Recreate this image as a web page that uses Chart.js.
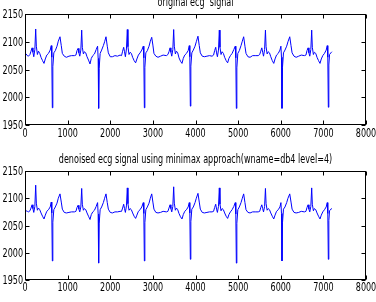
<!DOCTYPE html>
<html>
<head>
<meta charset="utf-8">
<script src="https://cdn.jsdelivr.net/npm/chart.js@4/dist/chart.umd.min.js"></script>
<style>
html,body{margin:0;padding:0;background:#fff;}
#wrap{position:relative;width:376px;height:302px;overflow:hidden;}
canvas{position:absolute;left:0;}
</style>
</head>
<body>
<div id="wrap">
<canvas id="c1" width="376" height="150" style="top:0"></canvas>
<canvas id="c2" width="376" height="152" style="top:150px"></canvas>
</div>
<script>
// ─── DATA ────────────────────────────────────────────────────────────────────
const TITLE_TOP='original ecg  signal';
const TITLE_BOT='denoised ecg signal using minimax approach(wname=db4 level=4)';
const X_TICKS=[0,1000,2000,3000,4000,5000,6000,7000,8000];
const Y_TICKS=[1950,2000,2050,2100,2150];

// sample index (shared by both signals)
const samples=[
  0,25,55,
  81,116,141,166,186,206,231,251,266,291,316,346,376,411,446,476,511,551,591,616,629,641,653,676,711,751,781,821,851,876,921,971,1031,1091,
  1160,1195,1220,1245,1265,1285,1310,1330,1345,1370,1395,1425,1455,1490,1525,1555,1590,1630,1670,1703,1716,1728,1740,1763,1798,1838,1868,1900,1930,1955,2000,2050,2110,2170,
  2230,2265,2290,2315,2335,2355,2380,2400,2415,2440,2465,2495,2525,2560,2595,2625,2660,2700,2740,2775,2788,2800,2812,2835,2870,2910,2940,2973,3000,3025,3070,3120,3180,3240,
  3318,3353,3378,3403,3423,3443,3468,3488,3503,3528,3553,3583,3613,3648,3683,3713,3748,3788,3828,3854,3867,3879,3891,3914,3949,3989,4019,4058,4088,4113,4158,4208,4268,4328,
  4389,4424,4449,4474,4494,4514,4539,4559,4574,4599,4624,4654,4684,4719,4754,4784,4819,4859,4899,4933,4946,4958,4970,4993,5028,5068,5098,5130,5160,5185,5230,5280,5340,5400,
  5471,5506,5531,5556,5576,5596,5621,5641,5656,5681,5706,5736,5766,5801,5836,5866,5901,5941,5981,6004,6017,6029,6041,6064,6099,6139,6169,6211,6241,6266,6311,6361,6421,6481,
  6556,6591,6616,6641,6661,6681,6706,6726,6741,6766,6791,6821,6851,6886,6921,6951,6986,7026,7066,7091,7104,7116,7128,7145,7175,7200
];

const original=[
  2076,2078,2075,
  2074,2077,2083,2089,2081,2073,2086,2123,2092,2077,2083,2079,2072,2066,2061,2069,2076,2079,2085,2093,2072,1981,2055,2080,2084,2092,2101,2109,2093,2079,2074,2072,2074,2075,
  2075,2076,2084,2088,2080,2074,2085,2121,2090,2078,2082,2080,2073,2067,2060,2070,2075,2078,2086,2092,2070,1980,2052,2079,2085,2093,2100,2109,2092,2080,2073,2073,2075,2074,
  2076,2075,2083,2090,2082,2073,2087,2122,2091,2077,2081,2079,2072,2066,2062,2069,2076,2080,2085,2092,2071,1981,2054,2080,2084,2092,2101,2108,2094,2079,2074,2072,2074,2076,
  2075,2077,2082,2089,2081,2074,2086,2122,2092,2078,2083,2080,2071,2065,2061,2070,2076,2079,2084,2093,2073,1984,2056,2080,2085,2092,2100,2110,2093,2080,2074,2073,2074,2075,
  2074,2076,2084,2090,2080,2073,2085,2121,2090,2077,2082,2079,2072,2066,2062,2070,2075,2079,2086,2092,2071,1980,2053,2079,2084,2093,2101,2109,2092,2079,2073,2072,2075,2075,
  2075,2077,2083,2089,2081,2074,2086,2121,2091,2078,2082,2080,2073,2066,2061,2069,2076,2079,2085,2092,2072,1980,2054,2080,2085,2092,2100,2109,2093,2080,2074,2072,2074,2076,
  2075,2076,2084,2089,2080,2074,2086,2121,2090,2077,2081,2079,2072,2066,2061,2069,2075,2079,2085,2093,2072,1982,2058,2077,2080,2082
];

const denoised=[
  2076,2077,2076,
  2075,2077,2082,2088,2081,2074,2085,2124,2091,2078,2082,2079,2073,2067,2062,2069,2076,2079,2084,2093,2073,1985,2056,2079,2084,2091,2100,2108,2093,2080,2074,2073,2074,2075,
  2075,2076,2083,2087,2080,2075,2084,2118,2089,2078,2081,2079,2073,2067,2061,2070,2075,2078,2085,2092,2071,1981,2053,2079,2084,2092,2100,2108,2092,2080,2074,2073,2075,2075,
  2076,2076,2082,2089,2081,2074,2086,2119,2090,2078,2081,2079,2073,2067,2063,2069,2076,2079,2084,2092,2072,1985,2055,2079,2084,2091,2100,2108,2093,2080,2074,2073,2074,2076,
  2075,2076,2082,2088,2081,2075,2085,2121,2091,2078,2082,2079,2072,2066,2062,2070,2076,2079,2084,2092,2073,1988,2057,2080,2084,2092,2100,2109,2093,2080,2074,2073,2074,2075,
  2075,2076,2083,2089,2080,2074,2085,2119,2089,2077,2081,2079,2073,2067,2063,2070,2075,2079,2085,2092,2071,1981,2054,2079,2084,2092,2100,2108,2092,2079,2074,2073,2075,2075,
  2075,2076,2083,2088,2081,2075,2085,2118,2090,2078,2081,2079,2073,2067,2062,2069,2076,2079,2084,2092,2072,1985,2055,2080,2084,2092,2100,2108,2093,2080,2074,2073,2074,2076,
  2075,2076,2083,2088,2080,2075,2085,2119,2089,2077,2081,2079,2073,2067,2062,2069,2075,2079,2084,2092,2072,1988,2059,2077,2080,2081
];

// ─── CHART ───────────────────────────────────────────────────────────────────
// the reference text is squeezed sideways, so labels are drawn with a horizontal scale
const FONT="11.5px 'DejaVu Sans',sans-serif";
const SQUEEZE=0.7;

function squeezedText(ctx,txt,x,y,align){
  ctx.save(); ctx.translate(x,y); ctx.scale(SQUEEZE,1);
  ctx.textAlign=align; ctx.fillText(txt,0,0); ctx.restore();
}

// matplotlib-style frame: box, inward ticks on all four sides, labels and title
const framePlugin={id:'frame',afterDraw(c,args,o){
  const {ctx,chartArea:a,scales:{x,y}}=c;
  const L=Math.round(a.left)+.5,R=Math.round(a.right)-.5,T=Math.round(a.top)+.5,B=Math.round(a.bottom)-.5;
  ctx.save();
  ctx.strokeStyle='#000';ctx.lineWidth=1;
  ctx.strokeRect(L,T,R-L,B-T);
  ctx.beginPath();
  for(const v of X_TICKS){const p=Math.round(x.getPixelForValue(v))+.5; ctx.moveTo(p,B);ctx.lineTo(p,B-4);ctx.moveTo(p,T);ctx.lineTo(p,T+4);}
  for(const v of Y_TICKS){const p=Math.round(y.getPixelForValue(v))+.5; ctx.moveTo(L,p);ctx.lineTo(L+4,p);ctx.moveTo(R,p);ctx.lineTo(R-4,p);}
  ctx.stroke();
  ctx.fillStyle='#000';ctx.font=FONT;ctx.textBaseline='alphabetic';
  for(const v of X_TICKS) squeezedText(ctx,String(v),x.getPixelForValue(v),a.bottom+o.xLab,'center');
  for(const v of Y_TICKS) squeezedText(ctx,String(v),a.left-2,y.getPixelForValue(v)+4.2,'right');
  squeezedText(ctx,o.text,(a.left+a.right)/2,o.y,'center');
  ctx.restore();
}};

function makeChart(id,vals,title,titleY,padTop,xH,xLab){
  return new Chart(document.getElementById(id),{
    type:'line',
    data:{datasets:[{data:samples.map((s,i)=>({x:s,y:vals[i]})),borderColor:'#0000ff',borderWidth:1,pointRadius:0,tension:0,fill:false}]},
    options:{
      responsive:false,animation:false,devicePixelRatio:1,
      layout:{padding:{top:padTop,right:10,left:0,bottom:0}},
      plugins:{legend:{display:false},tooltip:{enabled:false},frame:{text:title,y:titleY,xLab:xLab}},
      scales:{
        x:{type:'linear',min:0,max:8000,ticks:{display:false,stepSize:1000},
          grid:{display:false},border:{display:false},
          afterFit:s=>{s.height=xH;s.paddingLeft=0;s.paddingRight=0;}},
        y:{min:1950,max:2150,ticks:{display:false,stepSize:50},
          grid:{display:false},border:{display:false},
          afterFit:s=>{s.width=25;s.paddingTop=0;s.paddingBottom=0;}}
      }
    },
    plugins:[framePlugin]
  });
}

makeChart('c1',original,TITLE_TOP,6,14,25,12.3);
makeChart('c2',denoised,TITLE_BOT,12.7,21,22,11);
</script>
</body>
</html>
